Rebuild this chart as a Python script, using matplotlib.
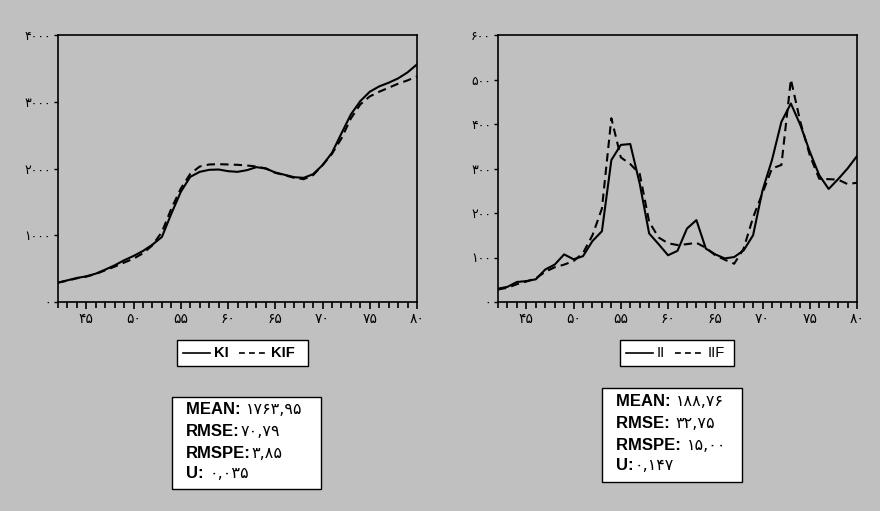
import matplotlib
matplotlib.use("Agg")
import matplotlib.pyplot as plt
from matplotlib.patches import Rectangle
from matplotlib.lines import Line2D
from matplotlib.ticker import MultipleLocator

years = list(range(42, 81))

ki = [290, 325, 360, 385, 425, 485, 550, 625, 690, 765, 860, 975, 1325, 1650,
      1875, 1950, 1980, 1985, 1960, 1950, 1975, 2020, 2000, 1940, 1905, 1870,
      1860, 1915, 2050, 2235, 2525, 2810, 3010, 3150, 3230, 3285, 3350, 3440, 3560]
kif = [290, 320, 355, 380, 420, 475, 530, 590, 650, 730, 850, 1050, 1400, 1700,
       1920, 2030, 2060, 2065, 2060, 2055, 2045, 2030, 2000, 1935, 1900, 1860,
       1840, 1900, 2050, 2220, 2450, 2750, 2960, 3080, 3150, 3210, 3270, 3320, 3380]

ii = [30, 34, 45, 47, 51, 73, 84, 107, 96, 103, 137, 159, 319, 353, 355, 266,
      154, 130, 105, 115, 165, 184, 120, 107, 98, 101, 116, 150, 251, 319, 405,
      446, 398, 338, 285, 254, 276, 300, 328]
iif = [28, 32, 40, 46, 53, 68, 78, 84, 92, 110, 150, 210, 413, 325, 310, 288,
       180, 145, 132, 128, 130, 133, 122, 105, 95, 86, 120, 190, 245, 300, 308,
       500, 405, 330, 277, 276, 275, 265, 268]

left_names = ["KI", "KIF"]
right_names = ["II", "IIF"]
left_stats = [("MEAN: ", "۱۷۶۳,۹۵"), ("RMSE:", "۷۰,۷۹"), ("RMSPE:", "۳,۸۵"), ("U: ", "۰,۰۳۵")]
right_stats = [("MEAN: ", "۱۸۸,۷۶"), ("RMSE: ", "۳۲,۷۵"), ("RMSPE: ", "۱۵,۰۰"), ("U:", "۰,۱۴۷")]

left_yticks = [0, 1000, 2000, 3000, 4000]
right_yticks = [0, 100, 200, 300, 400, 500, 600]
xticks_major = [45, 50, 55, 60, 65, 70, 75, 80]

PD = str.maketrans("0123456789", "۰۱۲۳۴۵۶۷۸۹")
def fa(n):
    return str(n).translate(PD)

BG = "#c0c0c0"
W, H = 880, 511
fig = plt.figure(figsize=(8.8, 5.11), dpi=100, facecolor=BG)

def fx(px):
    return px / W
def fy(py):
    return 1 - py / H

def make_ax(x0, x1, y0, y1, s1, s2, yt, ymax):
    ax = fig.add_axes([fx(x0), fy(y1), fx(x1) - fx(x0), fy(y0) - fy(y1)], facecolor=BG)
    ax.plot(years, s1, color="black", lw=1.5, ls="-")
    ax.plot(years, s2, color="black", lw=1.5, ls=(0, (4, 2.5)))
    ax.set_xlim(42, 80)
    ax.set_ylim(0, ymax)
    ax.set_xticks(xticks_major)
    ax.set_xticklabels([fa(v) for v in xticks_major], fontfamily="DejaVu Sans", fontsize=10)
    ax.xaxis.set_minor_locator(MultipleLocator(1))
    ax.set_yticks(yt)
    ax.set_yticklabels([fa(v) for v in yt], fontfamily="DejaVu Sans", fontsize=9)
    ax.tick_params(axis="x", which="major", length=5, width=1.2, direction="out", pad=2)
    ax.tick_params(axis="x", which="minor", length=4, width=1.2, direction="out")
    ax.tick_params(axis="y", which="major", length=3, width=1.0, direction="out", pad=2)
    for sp in ax.spines.values():
        sp.set_linewidth(1.2)
        sp.set_color("black")
    return ax

ax1 = make_ax(58, 417, 35, 302, ki, kif, left_yticks, 4000)
ax2 = make_ax(498, 857, 35, 302, ii, iif, right_yticks, 600)

def box(x0, y0, x1, y1):
    r = Rectangle((fx(x0), fy(y1)), fx(x1) - fx(x0), fy(y0) - fy(y1),
                  transform=fig.transFigure, facecolor="white", edgecolor="black",
                  lw=1.0, zorder=1)
    fig.patches.append(r)

def legend_box(x0, y0, x1, y1, names, bold):
    box(x0, y0, x1, y1)
    yc = fy((y0 + y1) / 2)
    wt = "bold" if bold else "normal"
    fig.add_artist(Line2D([fx(x0 + 6), fx(x0 + 33)], [yc, yc], color="black", lw=1.2,
                          transform=fig.transFigure, zorder=3))
    t1 = fig.text(fx(x0 + 37), yc, names[0], fontsize=10.5, fontweight=wt,
                  fontfamily="Liberation Sans", va="center", ha="left", zorder=3)
    fig.canvas.draw()
    bb = t1.get_window_extent()
    xs_px = bb.x1 + 10
    fig.add_artist(Line2D([xs_px / W, (xs_px + 29) / W], [yc, yc], color="black", lw=1.2,
                          ls=(0, (3.5, 2.5)), transform=fig.transFigure, zorder=3))
    fig.text((xs_px + 32) / W, yc, names[1], fontsize=10.5, fontweight=wt,
             fontfamily="Liberation Sans", va="center", ha="left", zorder=3)

legend_box(177, 340, 308, 366, left_names, True)
legend_box(620, 340, 734, 366, right_names, False)

def stats_box(x0, y0, x1, y1, tx, ys, stats):
    box(x0, y0, x1, y1)
    for (lab, val), yy in zip(stats, ys):
        t = fig.text(fx(tx), fy(yy), lab, fontsize=12, fontweight="bold",
                     fontfamily="Liberation Sans", va="center", ha="left", zorder=3)
        fig.canvas.draw()
        bb = t.get_window_extent()
        fig.text((bb.x1 + 1) / W, fy(yy), val, fontsize=11.5, fontweight="normal",
                 fontfamily="DejaVu Sans", va="center", ha="left", zorder=3)

stats_box(172, 397, 321, 489, 186, [410, 431.7, 453.3, 474], left_stats)
stats_box(602, 388, 742, 482, 616, [401.7, 423.3, 445, 466], right_stats)

fig.savefig("out.png", dpi=100, facecolor=BG)
